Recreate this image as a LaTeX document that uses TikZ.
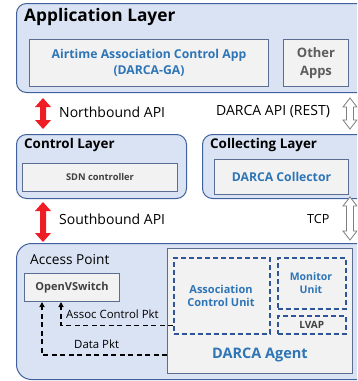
\documentclass[tikz,border=0pt]{standalone}
\usepackage{fontspec}
\setmainfont{Open Sans}
\usetikzlibrary{arrows.meta,calc}
\definecolor{layerfill}{HTML}{DAE3F3}
\definecolor{layerdraw}{HTML}{41609E}
\definecolor{boxfill}{HTML}{F2F2F2}
\definecolor{boxdraw}{HTML}{5B6E91}
\definecolor{dashdraw}{HTML}{2F5597}
\definecolor{bluetext}{HTML}{2E75B6}
\definecolor{graytext}{HTML}{404040}
\definecolor{apiRed}{HTML}{EE1C25}
\definecolor{arrowgray}{HTML}{7F7F7F}

% vertical block arrow with heads at both ends: x, top y, bottom y, half head, half shaft
\newcommand\vblockarrow[6][]{%
  \path[#1] (#2,#3) -- (#2+#5,#3+9) -- (#2+#6,#3+9) -- (#2+#6,#4-9) -- (#2+#5,#4-9)
    -- (#2,#4) -- (#2-#5,#4-9) -- (#2-#6,#4-9) -- (#2-#6,#3+9) -- (#2-#5,#3+9) -- cycle;}

\begin{document}
\begin{tikzpicture}[x=1pt,y=-1pt,
  layer/.style={draw=layerdraw, fill=layerfill, line width=1pt, rounded corners=10pt, anchor=north west, inner sep=0pt},
  innerbox/.style={draw=boxdraw, fill=boxfill, line width=1pt, anchor=north west, inner sep=0pt},
  unitbox/.style={draw=dashdraw, line width=1.5pt, dash pattern=on 5pt off 3pt, anchor=north west, inner sep=0pt},
  title/.style={anchor=west, inner sep=0pt, font=\bfseries\fontsize{13.4}{15}\selectfont},
  label/.style={anchor=west, inner sep=0pt, font=\fontsize{14}{16}\selectfont},
  bluebold/.style={text=bluetext, font=\bfseries\fontsize{12.2}{16}\selectfont, align=center, inner sep=0pt},
  graybold/.style={text=graytext, font=\bfseries\fontsize{11}{12}\selectfont, align=center, inner sep=0pt},
  pkt/.style={line width=1.4pt, dash pattern=on 5pt off 3.5pt, -{Triangle[length=5pt,width=5pt]}},
  redarrow/.style={fill=apiRed},
  openarrow/.style={fill=white, draw=arrowgray, line width=0.8pt}
]
\useasboundingbox (0,0) rectangle (357,381);
\clip (0,0) rectangle (357,381);

% Application layer
\node[layer, minimum width=360pt, minimum height=89pt] (app) at (16,3) {};
\node[title, font=\bfseries\fontsize{17.3}{19}\selectfont] (apptitle) at (24,17) {Application Layer};
\node[innerbox, minimum width=239pt, minimum height=47pt] (ga) at (29,39) {};
\node[bluebold] (gatext) at (ga.center) {Airtime Association Control App\\(DARCA-GA)};
\node[innerbox, minimum width=65pt, minimum height=47pt] (other) at (283,39) {};
\node[graybold, text=graytext!85, font=\bfseries\fontsize{13}{18}\selectfont] (othertext) at (other.center) {Other\\Apps};

% Control layer
\node[layer, minimum width=170pt, minimum height=64pt] (ctrl) at (16,134) {};
\node[title] (ctrltitle) at (24,145) {Control Layer};
\node[innerbox, minimum width=155pt, minimum height=28pt] (sdn) at (22,163) {};
\node[graybold, font=\bfseries\fontsize{9.3}{11}\selectfont] (sdntext) at (sdn.center) {SDN controller};

% Collecting layer
\node[layer, minimum width=170pt, minimum height=64pt] (coll) at (202,134) {};
\node[title] (colltitle) at (210,145) {Collecting Layer};
\node[innerbox, minimum width=134pt, minimum height=35pt] (collector) at (214,159) {};
\node[bluebold] (colltext) at (collector.center) {DARCA Collector};

% Access point
\node[layer, rounded corners=15pt, minimum width=360pt, minimum height=136pt] (ap) at (16,243) {};
\node[label, font=\fontsize{13.7}{15}\selectfont] (aptitle) at (30,260) {Access Point};
\node[innerbox, minimum width=95pt, minimum height=28pt] (ovs) at (24,273) {};
\node[graybold] (ovstext) at (ovs.center) {OpenVSwitch};
\node[innerbox, minimum width=185pt, minimum height=125pt] (agent) at (167,248) {};
\node[bluebold, font=\bfseries\fontsize{14.5}{16}\selectfont] (agenttext) at (260,355) {DARCA Agent};
\node[unitbox, minimum width=96pt, minimum height=76pt] (acu) at (173,257) {};
\node[bluebold, font=\bfseries\fontsize{11}{13}\selectfont] (acutext) at (221,295.5) {Association\\Control Unit};
\node[unitbox, minimum width=68pt, minimum height=51pt] (mon) at (277,257) {};
\node[bluebold, font=\bfseries\fontsize{10.5}{13}\selectfont] (montext) at (311,283.5) {Monitor\\Unit};
\node[unitbox, minimum width=68pt, minimum height=18pt] (lvap) at (277,315) {};
\node[graybold, font=\bfseries\fontsize{10}{12}\selectfont] (lvaptext) at (lvap.center) {LVAP};

% packet paths into the switch
\draw[pkt] ($(acu.south west)+(0,-9)$) -| ($(ovs.south west)+(37,0)$);
\draw[pkt] ($(agent.south west)+(0,-19)$) -| ($(ovs.south west)+(18,0)$);
\node[label, font=\fontsize{11.4}{13}\selectfont] (acpkt) at (66,314) {Assoc Control Pkt};
\node[label, font=\fontsize{11.4}{13}\selectfont] (datapkt) at (74,344) {Data Pkt};

% interfaces between layers
\vblockarrow[redarrow]{43}{98}{129}{8}{3}
\vblockarrow[redarrow]{43}{202}{242}{8}{3}
\vblockarrow[openarrow]{350}{98}{129}{7}{3.5}
\vblockarrow[openarrow]{350}{197}{240}{7}{3.5}
\node[label] (nbapi) at (59,112) {Northbound API};
\node[label] (restapi) at (216,112) {DARCA API (REST)};
\node[label] (sbapi) at (59,219) {Southbound API};
\node[label, font=\fontsize{12.6}{14}\selectfont] (tcp) at (307,219) {TCP};
\end{tikzpicture}
\end{document}
